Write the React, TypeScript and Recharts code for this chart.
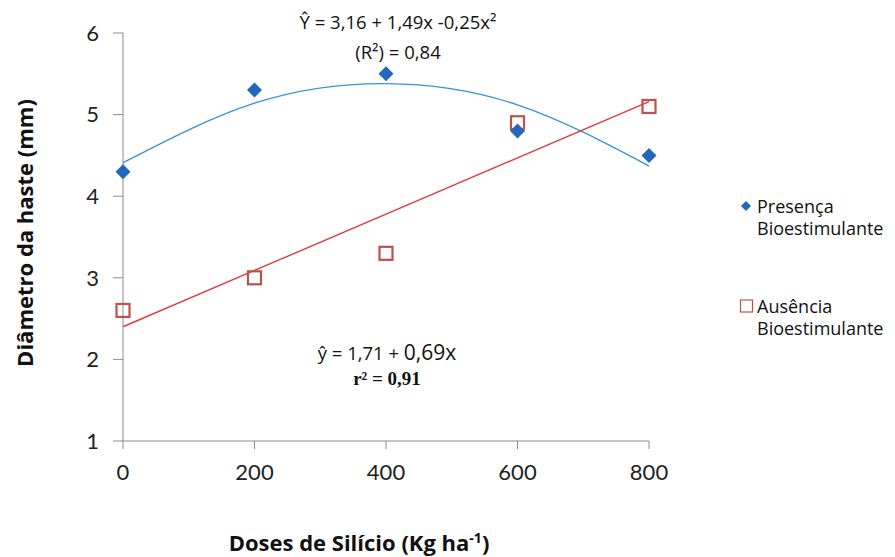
import React from 'react';
import { ComposedChart, Scatter, Line, XAxis, YAxis } from 'recharts';

// doses de silício (kg/ha)
const doses = [0, 200, 400, 600, 800];
const presenca = [4.3, 5.3, 5.5, 4.8, 4.5];
const ausencia = [2.6, 3.0, 3.3, 4.9, 5.1];
// trend lines
const trendPresenca = [4.41, 5.14, 5.38, 5.12, 4.37];
const trendAusencia = [2.4, 3.09, 3.78, 4.47, 5.16];
const xTicks = [0, 200, 400, 600, 800];
const yTicks = [1, 2, 3, 4, 5, 6];

const rows = doses.map((d, i) => ({
  dose: d,
  presenca: presenca[i],
  ausencia: ausencia[i],
  tP: trendPresenca[i],
  tA: trendAusencia[i],
}));

const BLUE = '#2268BE';
const BLUE_LINE = '#3A92D8';
const RED = '#C0504D';
const RED_LINE = '#E2383C';
const FONT = 'Lato, "Open Sans", sans-serif';
const WIDE = '"Open Sans", Lato, sans-serif';

const Diamond = (props: any) => {
  const { cx, cy } = props;
  if (cx == null || cy == null) return null;
  const r = 7.5;
  return <path d={`M${cx},${cy - r}L${cx + r},${cy}L${cx},${cy + r}L${cx - r},${cy}Z`} fill={BLUE} />;
};

const Square = (props: any) => {
  const { cx, cy } = props;
  if (cx == null || cy == null) return null;
  const s = 6.5;
  return <rect x={cx - s} y={cy - s} width={s * 2} height={s * 2} fill="#fff" fillOpacity={0} stroke={RED} strokeWidth={2.2} />;
};

const tickStyle = { fontSize: 22, fill: '#222', fontFamily: FONT };
const legLine = { position: 'absolute' as const, left: 757, fontSize: 18, lineHeight: '18px', height: 18, color: '#111', fontFamily: WIDE, whiteSpace: 'nowrap' as const };

export default function App() {
  return (
    <div style={{ position: 'absolute', left: 0, top: 0, width: 895, height: 557, background: '#fff', fontFamily: FONT }}>
      <ComposedChart
        width={895}
        height={557}
        data={rows}
        margin={{ top: 33, right: 246, bottom: 86, left: 0 }}
      >
        <XAxis
          type="number"
          dataKey="dose"
          domain={[0, 800]}
          ticks={xTicks}
          stroke="#8c8c8c"
          tickSize={8}
          tickMargin={15}
          tick={tickStyle}
        />
        <YAxis
          type="number"
          domain={[1, 6]}
          ticks={yTicks}
          width={123}
          stroke="#8c8c8c"
          tickSize={10}
          tickMargin={14}
          tick={tickStyle}
        />
        <Line dataKey="tP" type="natural" stroke={BLUE_LINE} strokeWidth={1.4} dot={false} activeDot={false} isAnimationActive={false} />
        <Line dataKey="tA" type="linear" stroke={RED_LINE} strokeWidth={1.4} dot={false} activeDot={false} isAnimationActive={false} />
        <Scatter dataKey="ausencia" shape={Square} isAnimationActive={false} />
        <Scatter dataKey="presenca" shape={Diamond} isAnimationActive={false} />
      </ComposedChart>

      {/* equations */}
      <div style={{ position: 'absolute', left: 248, width: 300, top: 7, textAlign: 'center', fontSize: 18.5, lineHeight: '30px', color: '#111', fontFamily: WIDE }}>
        <div>Ŷ = 3,16 + 1,49x -0,25x²</div>
        <div>(R²) = 0,84</div>
      </div>
      <div style={{ position: 'absolute', left: 237, width: 300, top: 337, textAlign: 'center', fontSize: 18.5, color: '#111', fontFamily: WIDE }}>
        <div style={{ lineHeight: '30px' }}>ŷ = 1,71 + <span style={{ fontSize: 21 }}>0,69x</span></div>
        <div style={{ lineHeight: '22px', fontFamily: '"Liberation Serif", serif', fontWeight: 'bold', fontSize: 19 }}>r² = 0,91</div>
      </div>

      {/* axis titles */}
      <div style={{ position: 'absolute', left: 359 - 200, width: 400, top: 527, textAlign: 'center', fontSize: 22, fontWeight: 'bold', color: '#111', fontFamily: WIDE }}>
        Doses de Silício (Kg ha<sup style={{ fontSize: 14 }}>-1</sup>)
      </div>
      <div style={{ position: 'absolute', left: 24 - 200, top: 233 - 15, width: 400, height: 30, lineHeight: '30px', textAlign: 'center', fontSize: 22, fontWeight: 'bold', color: '#111', fontFamily: WIDE, transform: 'rotate(-90deg)' }}>
        Diâmetro da haste (mm)
      </div>

      {/* legend */}
      <svg style={{ position: 'absolute', left: 738, top: 196 }} width={16} height={120}>
        <path d="M8,5L13,10L8,15L3,10Z" fill={BLUE} />
        <rect x={2.5} y={104} width={12} height={12} fill="none" stroke={RED} strokeWidth={1.2} />
      </svg>
      <div style={{ ...legLine, top: 197 }}>Presença</div>
      <div style={{ ...legLine, top: 219 }}>Bioestimulante</div>
      <div style={{ ...legLine, top: 297 }}>Ausência</div>
      <div style={{ ...legLine, top: 319 }}>Bioestimulante</div>
    </div>
  );
}
